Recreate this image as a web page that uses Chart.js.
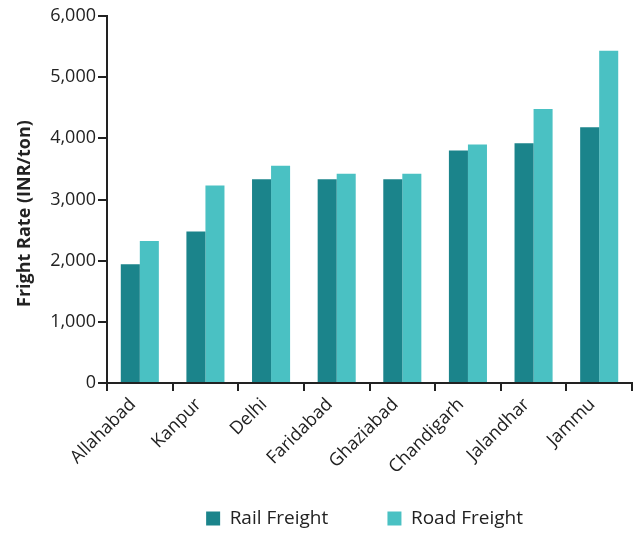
<!DOCTYPE html>
<html><head><meta charset="utf-8">
<script src="https://cdn.jsdelivr.net/npm/chart.js@4"></script>
<style>html,body{margin:0;padding:0;background:#fff}#wrap{width:637px;height:534px}</style>
</head><body><div id="wrap"><canvas id="c" width="637" height="534"></canvas></div>
<script>
const categories = ["Allahabad","Kanpur","Delhi","Faridabad","Ghaziabad","Chandigarh","Jalandhar","Jammu"];
const railFreight = [1940, 2475, 3330, 3330, 3330, 3800, 3920, 4180];
const roadFreight = [2320, 3230, 3550, 3420, 3420, 3900, 4480, 5430];
const yTicks = [0, 1000, 2000, 3000, 4000, 5000, 6000];
const seriesNames = ["Rail Freight", "Road Freight"];
const FONT = "'Open Sans', sans-serif";
const legendGap = ["            ", "  "];
new Chart(document.getElementById('c'), {
  type: 'bar',
  data: {
    labels: categories,
    datasets: [
      {label: seriesNames[0], data: railFreight, backgroundColor: '#1B848B', categoryPercentage: 0.58, barPercentage: 1},
      {label: seriesNames[1], data: roadFreight, backgroundColor: '#4AC1C3', categoryPercentage: 0.58, barPercentage: 1}
    ]
  },
  options: {
    responsive: false, animation: false,
    layout: {padding: {left: 0, right: 5, top: 16, bottom: -4}},
    plugins: {
      tooltip: {enabled: false},
      legend: {position: 'bottom', fullSize: false, labels: {font: {family: FONT, size: 19}, color: '#222', boxWidth: 14, boxHeight: 14, padding: 0,
        generateLabels: (chart) => {
          const items = Chart.defaults.plugins.legend.labels.generateLabels(chart);
          items.forEach((it, i) => { it.text = it.text + legendGap[i]; it.lineWidth = 0; });
          return items;
        }}}
    },
    scales: {
      x: {
        afterFit: (s) => { s.height = 126; },
        grid: {drawOnChartArea: false, drawTicks: true, tickLength: 8, color: '#222', lineWidth: 2},
        border: {color: '#222', width: 2},
        ticks: {font: {family: FONT, size: 18}, color: '#222', maxRotation: 45, minRotation: 45, padding: 3, labelOffset: -7}
      },
      y: {
        min: 0, max: 6000,
        afterFit: (s) => { s.width = 107; },
        afterBuildTicks: (s) => { s.ticks = yTicks.map(v => ({value: v})); },
        grid: {drawOnChartArea: false, drawTicks: true, tickLength: 9, color: '#222', lineWidth: 2},
        border: {color: '#222', width: 2},
        ticks: {font: {family: FONT, size: 18}, color: '#222', padding: 2,
          callback: (v) => v.toLocaleString('en-US')},
        title: {display: true, text: 'Fright Rate (INR/ton)      ', font: {family: FONT, size: 18, weight: 'bold'}, color: '#222', padding: {top: 14, bottom: 4}}
      }
    }
  }
});
</script></body></html>
